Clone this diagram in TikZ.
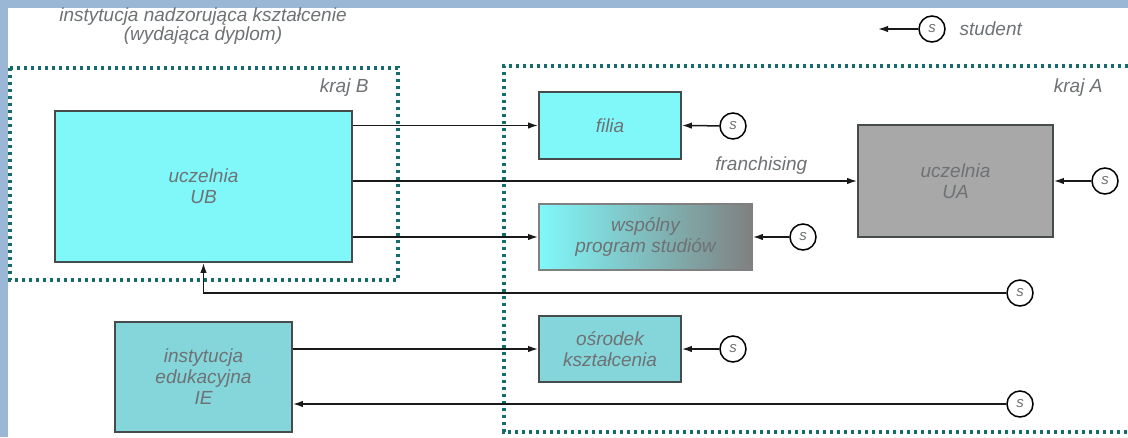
\documentclass[tikz,border=0pt]{standalone}
\usepackage{fontspec}
\setmainfont{Liberation Sans}
\usepackage{tikz}
\usetikzlibrary{arrows.meta}

\definecolor{bgblue}{RGB}{155,183,214}
\definecolor{cyanbox}{RGB}{128,248,250}
\definecolor{tealbox}{RGB}{132,214,218}
\definecolor{graybox}{RGB}{168,168,168}
\definecolor{darkgray}{RGB}{128,128,128}
\definecolor{framecol}{RGB}{22,108,108}
\definecolor{txtgray}{RGB}{110,114,116}
\definecolor{edgecol}{RGB}{70,76,76}

\begin{document}
\begin{tikzpicture}[x=1pt,y=-1pt,>={Latex[length=10pt,width=6.5pt]},
	font=\fontsize{19}{21}\selectfont\itshape,
	box/.style={draw=edgecol,line width=1.8pt,text=txtgray,align=center,inner sep=0pt},
	stud/.style={circle,draw=black,line width=1.5pt,fill=white,minimum size=26pt,inner sep=0pt,
		text=txtgray,font=\fontsize{15}{15}\selectfont\itshape},
	frame/.style={draw=framecol,line width=3.2pt,dash pattern=on 3.2pt off 3.8pt},
	link/.style={draw=black!90,line width=1.5pt}]
	\useasboundingbox (0,0) rectangle (1128,437);
	\fill [white] (0,0) rectangle (1128,437);
	\fill [bgblue] (0,0) rectangle (1128,8);
	\fill [bgblue] (0,0) rectangle (8,437);
%	frames of the two countries
	\draw [frame] (10,68) rectangle (398,280);
	\draw [frame] (1135,66) -- (504,66) -- (504,432) -- (1135,432);
	\node [text=txtgray, align=center, font=\fontsize{19}{19}\selectfont\itshape] (title) at (203,26)
		{instytucja nadzorująca kształcenie\\(wydająca dyplom)};
	\node [text=txtgray, anchor=east] (krajB) at (372,88) {kraj B};
	\node [text=txtgray, anchor=east] (krajA) at (1106,88) {kraj A};
%	legend
	\node [stud] (legS) at (932,29) {s};
	\coordinate (legTip) at (878,29);
	\node [text=txtgray, anchor=west] (legT) at (956,29) {student};
	\draw [link,->] (legS) -- (legTip);
%	boxes
	\node [box, fill=cyanbox, minimum width=297pt, minimum height=151pt] (UB) at (203.5,186.5) {uczelnia\\UB};
	\node [box, fill=cyanbox, minimum width=142pt, minimum height=67pt] (filia) at (610,125.5) {filia};
	\node [box, fill=graybox, minimum width=195pt, minimum height=112pt] (UA) at (955.5,181) {uczelnia\\UA};
	\node [box, draw=darkgray, left color=cyanbox, middle color=cyanbox!15, right color=darkgray,
		minimum width=213pt, minimum height=66pt] (wsp) at (645.5,237) {wspólny\\program studiów};
	\node [box, fill=tealbox, minimum width=142pt, minimum height=66pt] (osr) at (610,349) {ośrodek\\kształcenia};
	\node [box, fill=tealbox, minimum width=177pt, minimum height=110pt] (IE) at (203.5,377) {instytucja\\edukacyjna\\IE};
%	students
	\node [stud] (filiaS) at (733,126) {s};
	\node [stud] (UAS) at (1105,181) {s};
	\node [stud] (wspS) at (803,237) {s};
	\node [stud] (retS) at (1020,293) {s};
	\node [stud] (osrS) at (733,349) {s};
	\node [stud] (ieS) at (1020,404) {s};
%	links
	\draw [link,->] (UB.east |- filia.west) -- (filia.west);
	\draw [link,->] (UB.east |- UA.west) -- (UA.west) node [pos=0.81, above=2pt, text=txtgray] {franchising};
	\draw [link,->] (UB.east |- wsp.west) -- (wsp.west);
	\draw [link,->] (IE.east |- osr.west) -- (osr.west);
	\draw [link,->] (filiaS) -- (filia.east);
	\draw [link,->] (UAS) -- (UA.east);
	\draw [link,->] (wspS) -- (wsp.east);
	\draw [link,->] (osrS) -- (osr.east);
	\draw [link,->] (retS) -| (UB.south);
	\draw [link,->] (ieS) -- (IE.east |- ieS);
\end{tikzpicture}
\end{document}
